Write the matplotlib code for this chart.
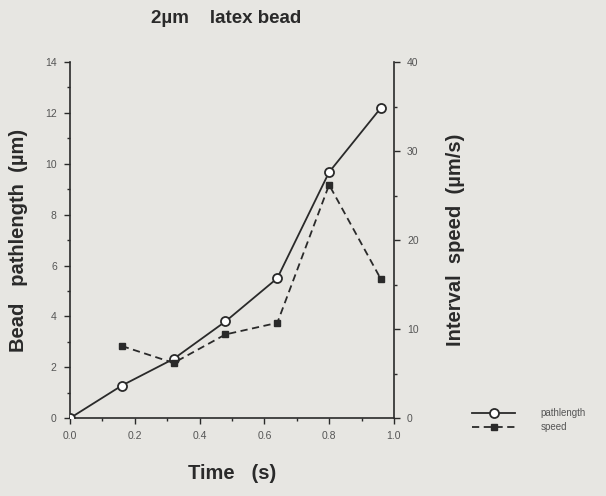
import matplotlib
matplotlib.use("Agg")
import matplotlib.pyplot as plt
from matplotlib.ticker import MultipleLocator
from matplotlib.lines import Line2D

time = [0.0, 0.16, 0.32, 0.48, 0.64, 0.80, 0.96]
pathlength = [0.0, 1.28, 2.33, 3.8, 5.5, 9.67, 12.2]
speed_time = [0.16, 0.32, 0.48, 0.64, 0.80, 0.96]
speed = [8.1, 6.2, 9.4, 10.7, 26.2, 15.6]

bg = "#e7e6e2"
ink = "#2a2a2a"
tick_c = "#555555"
plt.rcParams['font.family'] = ['Liberation Sans', 'DejaVu Sans']

fig = plt.figure(figsize=(6.06, 4.96), dpi=100, facecolor=bg)
ax = fig.add_axes([0.1155, 0.157, 0.5345, 0.718])
ax.set_facecolor(bg)
ax2 = ax.twinx()

ax.plot(time, pathlength, color=ink, lw=1.3, marker='o', ms=6.5,
        mfc='white', mec=ink, mew=1.3, zorder=3)
ax2.plot(speed_time, speed, color=ink, lw=1.3, ls=(0, (4, 2.5)), marker='s',
         ms=4.5, mfc=ink, mec=ink, zorder=3)

ax.set_xlim(0, 1.0)
ax.set_ylim(0, 14)
ax2.set_ylim(0, 40)

for a in (ax, ax2):
    a.spines['top'].set_visible(False)
    for s in a.spines.values():
        s.set_color(ink)
        s.set_linewidth(1.2)
ax.spines['right'].set_visible(False)
ax2.spines['left'].set_visible(False)
ax2.spines['bottom'].set_visible(False)

ax.xaxis.set_major_locator(MultipleLocator(0.2))
ax.xaxis.set_minor_locator(MultipleLocator(0.1))
ax.yaxis.set_major_locator(MultipleLocator(2))
ax.yaxis.set_minor_locator(MultipleLocator(1))
ax2.yaxis.set_major_locator(MultipleLocator(10))
ax2.yaxis.set_minor_locator(MultipleLocator(5))
ax.set_xticklabels([f"{v:.1f}" for v in ax.get_xticks()])

for a in (ax, ax2):
    a.tick_params(which='major', length=4.5, width=1.0, color=ink,
                  labelsize=7.5, labelcolor=tick_c, pad=5)
    a.tick_params(which='minor', length=2.5, width=1.0, color=ink)

ax.set_xlabel("Time   (s)", fontsize=14.5, fontweight='bold', color=ink, labelpad=16)
ax.set_ylabel("Bead   pathlength  (\u00b5m)", fontsize=14.5, fontweight='bold',
              color=ink, labelpad=12)
ax2.set_ylabel("Interval  speed  (\u00b5m/s)", fontsize=14.5, fontweight='bold',
               color=ink, rotation=90, labelpad=20)
fig.text(0.373, 0.962, "2\u00b5m    latex bead", fontsize=13.5, fontweight='bold',
         color=ink, ha='center', va='center')

handles = [
    Line2D([], [], color=ink, lw=1.3, marker='o', ms=6.5, mfc='white', mec=ink, mew=1.3),
    Line2D([], [], color=ink, lw=1.3, ls=(0, (4, 2.5)), marker='s', ms=4.5, mfc=ink, mec=ink),
]
leg = fig.legend(handles, ["pathlength", "speed"], loc='center left',
                 bbox_to_anchor=(0.765, 0.153), frameon=False, fontsize=7,
                 handlelength=4.4, handletextpad=2.6, labelspacing=0.4)
for t in leg.get_texts():
    t.set_color(tick_c)

fig.savefig("out.png", dpi=100, facecolor=bg)
